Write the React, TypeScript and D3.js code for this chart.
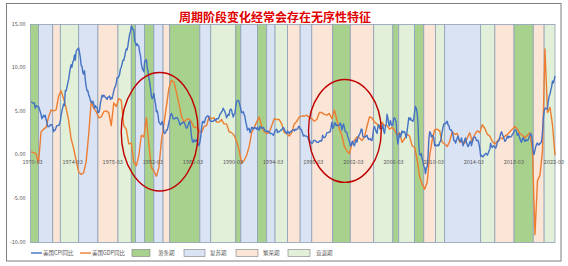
import React from "react";
import * as d3 from "d3";

// ---------- DATA ----------
const title = "周期阶段变化经常会存在无序性特征";

// US CPI YoY (%), monthly, from 1970-03 to 2022-06
const cpiStart = "1970-03";
const cpiValues: number[] = [
  6.1, 6.1, 6.0, 6.0, 6.0, 5.4, 5.7, 5.6, 5.6, 5.6,
  5.3, 5.0, 4.7, 4.2, 4.4, 4.6, 4.4, 4.6, 4.1, 3.8, 3.3, 3.3,
  3.3, 3.5, 3.5, 3.5, 3.2, 2.7, 2.9, 2.9, 3.2, 3.4, 3.4, 3.4,
  3.6, 3.9, 4.6, 5.1, 5.5, 5.9, 5.7, 7.4, 7.4, 7.8, 8.3, 8.7,
  9.4, 10.0, 10.4, 10.1, 10.7, 10.9, 11.5, 10.9, 11.9, 12.1, 12.2, 12.3,
  11.8, 11.2, 10.3, 10.2, 9.5, 9.3, 9.7, 8.6, 7.9, 7.4, 7.4, 6.9,
  6.7, 6.3, 6.1, 6.0, 6.2, 5.9, 5.4, 5.7, 5.5, 5.5, 4.9, 4.9,
  5.2, 6.0, 6.4, 6.9, 6.7, 6.9, 6.8, 6.6, 6.6, 6.4, 6.7, 6.7,
  6.8, 6.4, 6.6, 6.5, 6.9, 7.4, 7.7, 7.9, 8.3, 8.9, 8.9, 9.0,
  9.3, 9.9, 10.1, 10.5, 10.9, 10.9, 11.3, 11.8, 12.2, 12.1, 12.6, 13.3,
  13.9, 14.2, 14.8, 14.7, 14.4, 14.4, 13.1, 12.9, 12.6, 12.8, 12.6, 12.5,
  11.8, 11.4, 10.5, 10.0, 9.8, 9.6, 10.8, 10.8, 11.0, 10.1, 9.6, 8.9,
  8.4, 7.6, 6.8, 6.5, 6.7, 7.1, 6.4, 5.9, 5.0, 5.1, 4.6, 3.8,
  3.7, 3.5, 3.6, 3.9, 3.5, 2.6, 2.5, 2.6, 2.9, 2.9, 3.3, 3.8,
  4.2, 4.6, 4.8, 4.6, 4.2, 4.2, 4.2, 4.3, 4.3, 4.3, 4.1, 3.9,
  3.5, 3.5, 3.7, 3.7, 3.8, 3.8, 3.6, 3.3, 3.1, 3.2, 3.5, 3.8,
  3.9, 3.1, 2.2, 1.6, 1.5, 1.8, 1.6, 1.6, 1.8, 1.5, 1.3, 1.1,
  1.5, 2.1, 3.0, 3.8, 3.9, 3.7, 3.9, 4.3, 4.4, 4.5, 4.5, 4.4,
  4.0, 3.9, 3.9, 3.9, 3.9, 4.0, 4.1, 4.0, 4.2, 4.2, 4.2, 4.4,
  4.7, 4.8, 5.0, 5.1, 5.4, 5.2, 5.0, 4.7, 4.3, 4.5, 4.7, 4.6,
  5.2, 5.3, 5.2, 4.7, 4.4, 4.7, 4.8, 5.6, 6.2, 6.3, 6.3, 6.1,
  5.7, 5.3, 4.9, 4.9, 5.0, 4.7, 4.4, 3.8, 3.4, 2.9, 3.0, 3.1,
  2.6, 2.8, 3.2, 3.2, 3.0, 3.1, 3.2, 3.1, 3.0, 3.2, 3.0, 2.9,
  3.3, 3.2, 3.1, 3.2, 3.2, 3.0, 2.8, 2.8, 2.7, 2.8, 2.7, 2.7,
  2.5, 2.5, 2.5, 2.4, 2.3, 2.5, 2.8, 2.9, 3.0, 2.6, 2.7, 2.7,
  2.8, 2.9, 2.9, 3.1, 3.2, 3.0, 2.8, 2.6, 2.5, 2.8, 2.6, 2.5,
  2.7, 2.7, 2.8, 2.9, 2.9, 2.8, 3.0, 2.9, 3.0, 3.0, 3.3, 3.3,
  3.0, 3.0, 2.8, 2.5, 2.2, 2.3, 2.2, 2.2, 2.2, 2.1, 1.8, 1.7,
  1.6, 1.4, 1.4, 1.4, 1.7, 1.7, 1.7, 1.6, 1.5, 1.5, 1.5, 1.6,
  1.7, 1.6, 1.7, 2.3, 2.1, 2.0, 2.1, 2.3, 2.6, 2.6, 2.6, 2.7,
  2.7, 3.2, 3.8, 3.1, 3.2, 3.7, 3.7, 3.4, 3.5, 3.4, 3.4, 3.4,
  3.7, 3.5, 2.9, 3.3, 3.6, 3.2, 2.7, 2.7, 2.6, 2.1, 1.9, 1.6,
  1.1, 1.1, 1.5, 1.6, 1.2, 1.1, 1.5, 1.8, 1.5, 2.0, 2.2, 2.4,
  2.6, 3.0, 3.0, 2.2, 2.1, 2.1, 2.1, 2.2, 2.3, 2.0, 1.8, 1.9,
  1.9, 1.7, 1.7, 2.3, 3.1, 3.3, 3.0, 2.7, 2.5, 3.2, 3.5, 3.3,
  3.0, 3.0, 3.1, 3.5, 2.8, 2.5, 3.2, 3.6, 4.7, 4.3, 3.5, 3.4,
  4.0, 3.6, 3.4, 3.5, 4.2, 4.3, 4.1, 3.8, 2.1, 1.3, 2.0, 2.5,
  2.1, 2.4, 2.8, 2.6, 2.7, 2.7, 2.4, 2.0, 2.8, 3.5, 4.3, 4.1,
  4.3, 4.0, 4.0, 3.9, 4.2, 5.0, 5.6, 5.4, 4.9, 3.7, 1.1, 0.1,
  0.0, 0.2, -0.4, -0.7, -1.3, -1.4, -2.1, -1.5, -1.3, -0.2, 1.8, 2.7,
  2.6, 2.1, 2.3, 2.2, 2.0, 1.1, 1.2, 1.1, 1.1, 1.2, 1.1, 1.5,
  1.6, 2.1, 2.7, 3.2, 3.6, 3.6, 3.6, 3.8, 3.9, 3.5, 3.4, 3.0,
  2.9, 2.9, 2.7, 2.3, 1.7, 1.7, 1.4, 1.7, 2.0, 2.2, 1.8, 1.7,
  1.6, 2.0, 1.5, 1.1, 1.4, 1.8, 2.0, 1.5, 1.2, 1.0, 1.2, 1.5,
  1.6, 1.1, 1.5, 2.0, 2.1, 2.1, 2.0, 1.7, 1.7, 1.7, 1.3, 0.8,
  -0.1, 0.0, -0.1, -0.2, 0.0, 0.1, 0.2, 0.2, 0.0, 0.2, 0.5, 0.7,
  1.4, 1.0, 0.9, 1.1, 1.0, 1.0, 0.8, 1.1, 1.5, 1.6, 1.7, 2.1,
  2.5, 2.7, 2.4, 2.2, 1.9, 1.6, 1.7, 1.9, 2.2, 2.0, 2.2, 2.1,
  2.1, 2.2, 2.4, 2.5, 2.8, 2.9, 2.9, 2.7, 2.3, 2.5, 2.2, 1.9,
  1.6, 1.5, 1.9, 2.0, 1.8, 1.6, 1.8, 1.7, 1.7, 1.8, 2.1, 2.3,
  2.5, 2.3, 1.5, 0.3, 0.1, 0.6, 1.0, 1.3, 1.4, 1.2, 1.2, 1.4,
  1.4, 1.7, 2.6, 4.2, 5.0, 5.4, 5.4, 5.3, 5.4, 6.2, 6.8, 7.0,
  7.5, 7.9, 8.5, 8.3, 8.6, 9.1,
];

// US real GDP YoY (%), quarterly, from 1970-Q1 (plotted at quarter-end month)
const gdpStart = "1970-03";
const gdpValues: number[] = [
  0.4, 0.3, 0.2, -0.9,
  2.7, 3.0, 3.2, 4.4,
  5.2, 5.1, 5.2, 6.8,
  7.4, 6.5, 5.4, 4.0,
  1.9, 0.8, -0.6, -1.9,
  -2.2, -2.0, -0.7, 2.4,
  6.2, 5.4, 5.0, 4.3,
  4.4, 5.0, 5.1, 4.9,
  3.4, 6.0, 5.6, 6.5,
  6.3, 3.4, 3.0, 1.3,
  1.4, -0.8, -1.2, 0.0,
  2.3, 2.1, 4.3, 1.3,
  -1.4, -1.8, -2.4, -1.4,
  1.6, 3.6, 5.6, 7.7,
  8.6, 8.4, 7.2, 5.9,
  4.5, 3.8, 4.1, 4.2,
  3.8, 3.2, 3.2, 2.8,
  2.6, 3.3, 3.4, 4.4,
  4.2, 4.3, 3.8, 3.8,
  4.1, 3.6, 3.6, 2.7,
  2.6, 2.3, 1.6, 0.6,
  -0.9, -0.6, 0.0, 1.0,
  2.6, 3.2, 3.8, 4.4,
  3.3, 2.7, 2.5, 2.6,
  3.4, 4.2, 4.1, 4.1,
  3.6, 2.6, 2.5, 2.2,
  2.6, 3.6, 3.9, 4.4,
  4.5, 4.5, 4.6, 4.3,
  4.2, 3.9, 4.1, 4.9,
  4.9, 4.7, 4.6, 4.8,
  4.2, 5.2, 4.0, 3.0,
  2.3, 1.0, 0.5, 0.2,
  1.3, 1.7, 2.1, 2.0,
  1.7, 2.1, 3.3, 4.4,
  4.3, 3.8, 3.6, 3.1,
  3.8, 3.4, 3.4, 3.0,
  3.2, 2.9, 2.3, 2.6,
  1.5, 1.9, 2.4, 2.2,
  1.1, 0.9, -0.5, -2.5,
  -3.3, -3.9, -3.1, 0.0,
  1.7, 2.9, 3.0, 2.8,
  1.5, 1.3, 1.0, 1.6,
  2.7, 2.4, 2.5, 1.5,
  1.6, 1.4, 2.0, 2.6,
  1.5, 2.4, 2.8, 2.6,
  3.5, 3.1, 2.4, 2.2,
  1.6, 1.3, 1.6, 2.0,
  1.9, 2.2, 2.4, 2.7,
  3.0, 3.3, 3.0, 2.5,
  2.3, 2.0, 2.3, 2.6,
  0.6, -9.1, -2.9, -2.3,
  0.5, 12.2, 4.9, 5.5,
  3.5, 0.0,
];

// Cycle phase bands: start month and phase type
const bandStarts = [
  "1970-03", "1970-12", "1972-05", "1973-02", "1974-12", "1976-11", "1978-11",
  "1980-03", "1980-08", "1981-07", "1982-06", "1983-05", "1984-01", "1987-01",
  "1988-02", "1990-08", "1991-02", "1992-10", "1993-09", "1994-07", "1995-10",
  "1997-01", "1998-03", "2000-04", "2002-01", "2004-05", "2006-04", "2006-11",
  "2008-06", "2009-05", "2010-07", "2011-06", "2015-01", "2016-06", "2018-05",
  "2020-04", "2021-05",
];
const bandTypes = [
  "萧条期", "复苏期", "繁荣期", "衰退期", "复苏期", "繁荣期", "衰退期",
  "萧条期", "复苏期", "萧条期", "复苏期", "繁荣期", "萧条期", "复苏期",
  "衰退期", "萧条期", "复苏期", "萧条期", "复苏期", "衰退期", "繁荣期",
  "复苏期", "繁荣期", "萧条期", "繁荣期", "衰退期", "萧条期", "衰退期",
  "萧条期", "繁荣期", "衰退期", "复苏期", "衰退期", "繁荣期", "萧条期",
  "繁荣期", "衰退期",
];
const bandEnd = "2022-06";

const phaseNames = ["萧条期", "复苏期", "繁荣期", "衰退期"];
const seriesNames = ["美国CPI同比", "美国GDP同比"];

const xTickLabels = [
  "1970-03", "1974-03", "1978-03", "1982-03", "1986-03", "1990-03", "1994-03",
  "1998-03", "2002-03", "2006-03", "2010-03", "2014-03", "2018-03", "2022-03",
];
const yTicks = [15, 10, 5, 0, -5, -10];

// Highlighted periods (ellipses): [start, end] dates and [low, high] values
const ellipseSpans = [
  { x0: "1979-03", x1: "1986-11", y0: -4.1, y1: 9.5 },
  { x0: "1997-11", x1: "2005-02", y0: -3.1, y1: 8.7 },
];

// ---------- STYLE ----------
const W = 568;
const H = 266;
const phaseColors: Record<string, string> = {
  萧条期: "#A9D18E",
  复苏期: "#DAE3F3",
  繁荣期: "#FBE5D6",
  衰退期: "#E2F0D9",
};
const lineColors = ["#4472C4", "#ED7D31"];
const font = "'Noto Sans CJK SC', 'Noto Sans', sans-serif";

const parse = d3.timeParse("%Y-%m");
const addMonths = (s: string, n: number) => d3.timeMonth.offset(parse(s) as Date, n);

export default function App() {
  const x = d3
    .scaleTime()
    .domain([parse("1970-03") as Date, parse("2022-06") as Date])
    .range([31, 555]);
  const y = d3.scaleLinear().domain([-10, 15]).range([242.5, 24.5]);

  const cpi = cpiValues.map((v, i) => ({ d: addMonths(cpiStart, i), v }));
  const gdp = gdpValues.map((v, i) => ({ d: addMonths(gdpStart, i * 3), v }));
  const line = d3
    .line<{ d: Date; v: number }>()
    .x((p) => x(p.d))
    .y((p) => y(p.v));

  const bands = bandStarts.map((s, i) => {
    const a = parse(s) as Date;
    const b = parse(i + 1 < bandStarts.length ? bandStarts[i + 1] : bandEnd) as Date;
    return { x0: i === 0 ? 30.5 : x(a), x1: i + 1 < bandStarts.length ? x(b) : 555, type: bandTypes[i] };
  });

  const legendY = 253;
  const legendItems = [
    { kind: "line", color: lineColors[0], label: seriesNames[0], x: 31, w: 11, tx: 43 },
    { kind: "line", color: lineColors[1], label: seriesNames[1], x: 80, w: 11, tx: 92 },
    { kind: "box", color: phaseColors[phaseNames[0]], label: phaseNames[0], x: 132, w: 18, tx: 158 },
    { kind: "box", color: phaseColors[phaseNames[1]], label: phaseNames[1], x: 184, w: 21, tx: 210 },
    { kind: "box", color: phaseColors[phaseNames[2]], label: phaseNames[2], x: 236, w: 22, tx: 263 },
    { kind: "box", color: phaseColors[phaseNames[3]], label: phaseNames[3], x: 288, w: 22, tx: 316 },
  ];

  return (
    <svg
      width={W}
      height={H}
      style={{ position: "absolute", left: 0, top: 0, background: "#fff" }}
      fontFamily={font}
    >
      <rect x={0} y={0} width={W} height={H} fill="#fff" />
      <rect x={6.5} y={3.5} width={554.5} height={257.5} fill="#fff" stroke="#7f7f7f" strokeWidth={1} />

      {/* bands */}
      {bands.map((b, i) => (
        <rect
          key={i}
          x={b.x0}
          y={y(15)}
          width={b.x1 - b.x0}
          height={y(-10) - y(15)}
          fill={phaseColors[b.type]}
          stroke="#8EA0B6"
          strokeWidth={0.8}
        />
      ))}

      {/* y tick labels */}
      {yTicks.map((t) => (
        <text key={t} x={25.5} y={y(t) + 1} fontSize={5.5} fill="#595959" textAnchor="end">
          {t.toFixed(2)}
        </text>
      ))}

      {/* lines */}
      <path d={line(gdp) || ""} fill="none" stroke={lineColors[1]} strokeWidth={1.4} strokeLinejoin="round" />
      <path d={line(cpi) || ""} fill="none" stroke={lineColors[0]} strokeWidth={1.4} strokeLinejoin="round" />

      {/* x tick labels */}
      {xTickLabels.map((t) => (
        <text key={t} x={x(parse(t) as Date) + 1.5} y={163.5} fontSize={5.5} fill="#595959" textAnchor="middle">
          {t}
        </text>
      ))}

      {/* ellipses */}
      {ellipseSpans.map((e, i) => {
        const cx = (x(parse(e.x0) as Date) + x(parse(e.x1) as Date)) / 2;
        const rx = (x(parse(e.x1) as Date) - x(parse(e.x0) as Date)) / 2;
        const cy = (y(e.y0) + y(e.y1)) / 2;
        const ry = (y(e.y0) - y(e.y1)) / 2;
        return <ellipse key={i} cx={cx} cy={cy} rx={rx} ry={ry} fill="none" stroke="#C00000" strokeWidth={1.4} />;
      })}

      {/* title */}
      <text x={275} y={21.5} fontSize={12} fontWeight="bold" fill="#E00000" textAnchor="middle">
        {title}
      </text>

      {/* legend */}
      {legendItems.map((it, i) => (
        <g key={i}>
          {it.kind === "line" ? (
            <line x1={it.x} x2={it.x + it.w} y1={legendY} y2={legendY} stroke={it.color} strokeWidth={1.4} />
          ) : (
            <rect x={it.x} y={legendY - 3.5} width={it.w} height={7} fill={it.color} stroke="#7f7f7f" strokeWidth={0.6} />
          )}
          <text x={it.tx} y={legendY + 2} fontSize={5.5} fill="#595959">
            {it.label}
          </text>
        </g>
      ))}
    </svg>
  );
}
